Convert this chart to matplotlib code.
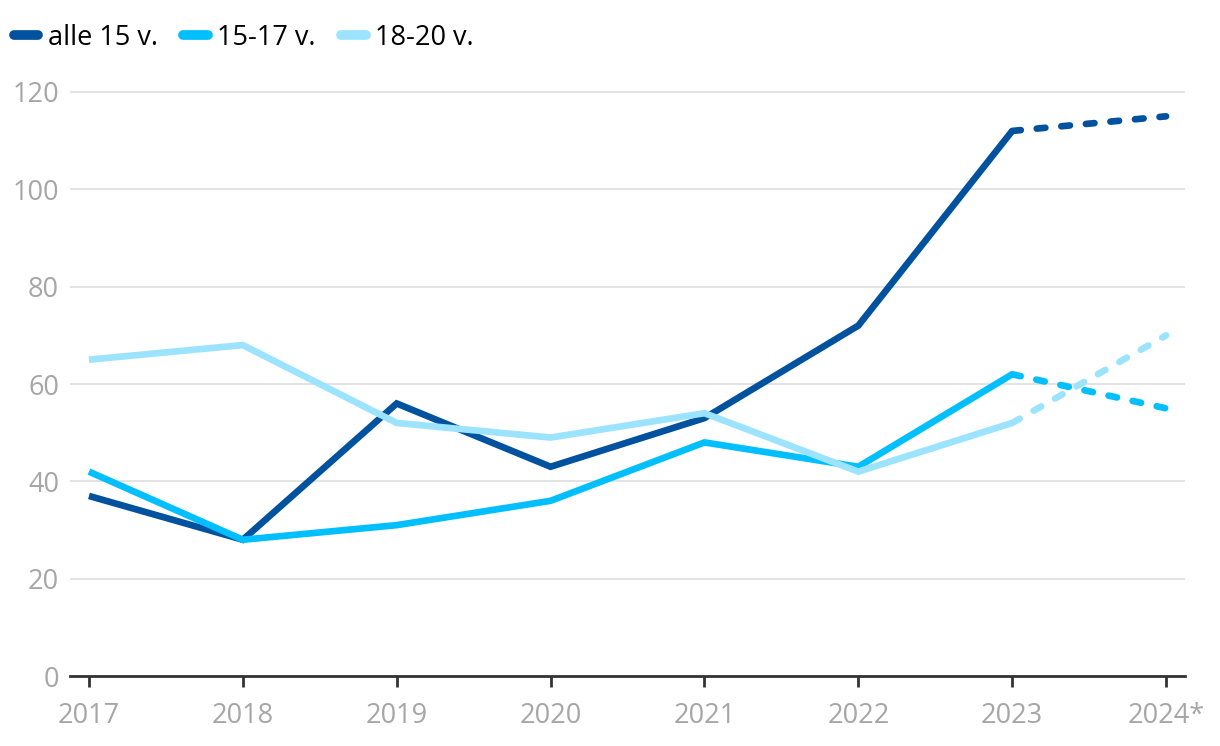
import matplotlib
matplotlib.use("Agg")
import matplotlib.pyplot as plt

plt.rcParams['font.family'] = ['Open Sans', 'DejaVu Sans']

### years and series values, last point is the estimate
years = ["2017", "2018", "2019", "2020", "2021", "2022", "2023", "2024*"]
alle15 = [37, 28, 56, 43, 53, 72, 112, 115]
age15_17 = [42, 28, 31, 36, 48, 43, 62, 55]
age18_20 = [65, 68, 52, 49, 54, 42, 52, 70]

names = ["alle 15 v.", "15-17 v.", "18-20 v."]
colors = ["#00519E", "#00BFFF", "#9BE3FF"]
yticks = [0, 20, 40, 60, 80, 100, 120]

fig = plt.figure(figsize=(12.2, 7.46), dpi=100)
ax = fig.add_axes([0.0574, 0.0938, 0.9139, 0.7894])

x = list(range(len(years)))
lw = 4.8
handles = []
for vals, col, name in zip([alle15, age15_17, age18_20], colors, names):
	h, = ax.plot(x[:-1], vals[:-1], color=col, lw=lw, solid_capstyle='butt',
		solid_joinstyle='miter', label=name, zorder=3)
	ax.plot(x[-2:], vals[-2:], color=col, lw=lw, dashes=(1.3, 2.4),
		dash_capstyle='round', zorder=3)
	handles.append(h)

ax.set_xlim(-0.123, len(years) - 1 + 0.123)
ax.set_ylim(0, 121)
ax.set_yticks(yticks)
ax.set_xticks(x)
ax.set_xticklabels(years)

ax.grid(axis='y', color='#e3e3e3', lw=1.4, zorder=0)
ax.set_axisbelow(True)
for s in ['top', 'right', 'left']:
	ax.spines[s].set_visible(False)
ax.spines['bottom'].set_color('#333333')
ax.spines['bottom'].set_linewidth(2)
ax.spines['bottom'].set_zorder(4)

ax.tick_params(axis='y', length=0, pad=8, labelsize=19.5, labelcolor='#a6a6a6')
ax.tick_params(axis='x', length=8, width=2, color='#333333', pad=11,
	labelsize=19.5, labelcolor='#a6a6a6')

leg_handles = [plt.Line2D([], [], color=c, lw=7, solid_capstyle='round') for c in colors]
fig.legend(leg_handles, names, loc='upper left', bbox_to_anchor=(-0.002, 0.99),
	ncol=3, frameon=False, fontsize=19.5, handlelength=0.9, handletextpad=0.35,
	columnspacing=0.95, borderaxespad=0.2)

fig.savefig("out.png", dpi=100, facecolor='white')
